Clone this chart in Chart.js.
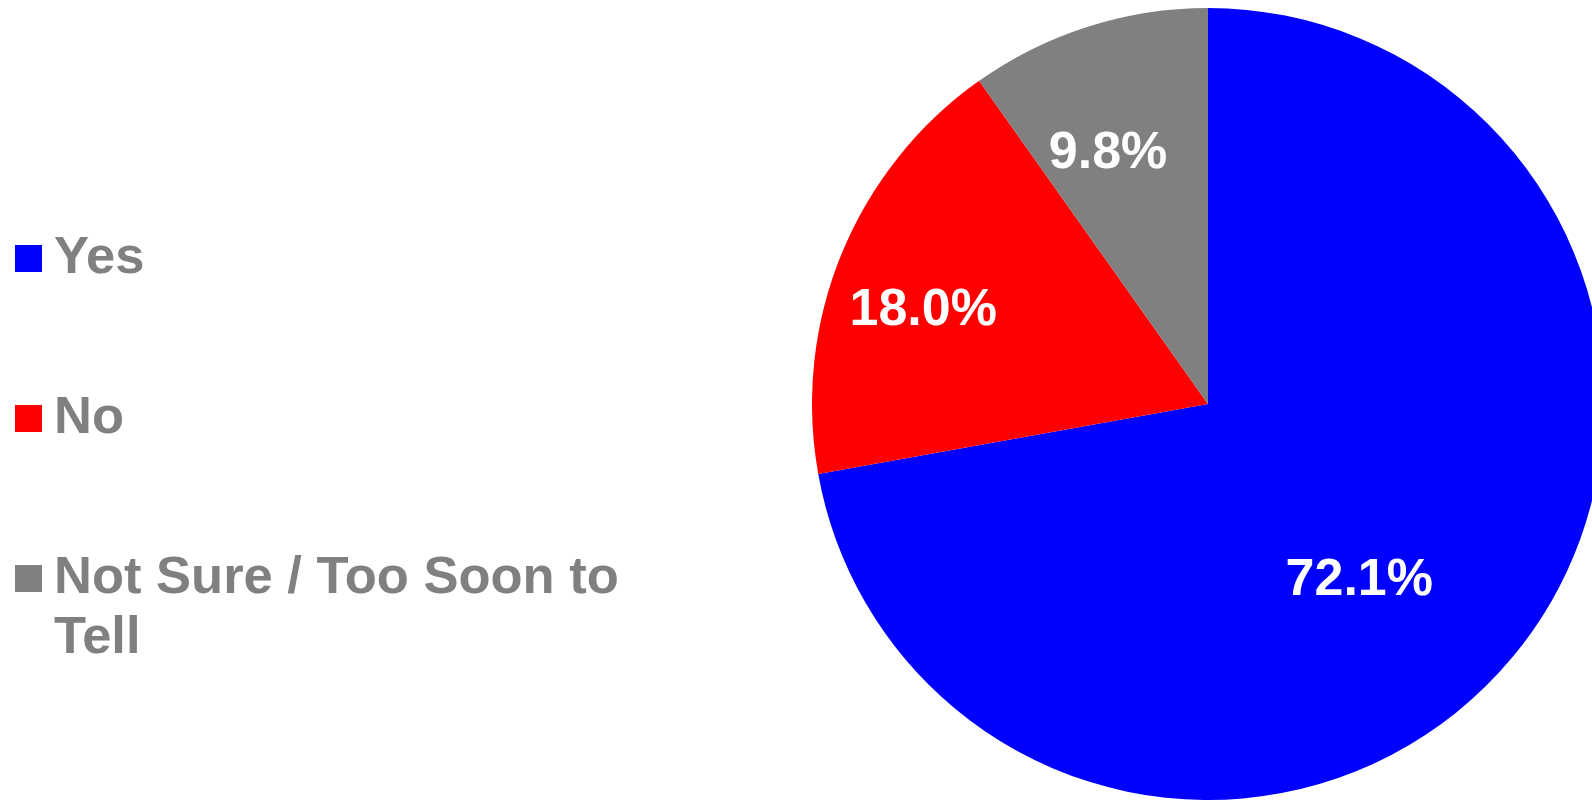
<!DOCTYPE html>
<html>
<head>
<meta charset="utf-8">
<title>Survey response</title>
<script src="https://cdn.jsdelivr.net/npm/chart.js@4/dist/chart.umd.min.js"></script>
<style>
    html, body {
        margin: 0;
        padding: 0;
        background: #ffffff;
    }
    body {
        width: 1592px;
        height: 800px;
        overflow: hidden;
        position: relative;
        font-family: "Liberation Sans", Arial, sans-serif;
    }
    .legend {
        position: absolute;
        left: 15px;
        top: 225px;
        display: flex;
        flex-direction: column;
        gap: 100px;
    }
    .legend-item {
        display: flex;
        align-items: flex-start;
    }
    .legend-swatch {
        width: 27px;
        height: 27px;
        margin-top: 20px;
        margin-right: 12px;
        flex: none;
    }
    .legend-text {
        width: 600px;
        font-weight: bold;
        font-size: 52.5px;
        line-height: 60px;
        color: #808080;
    }
    .pie-wrap {
        position: absolute;
        left: 812px;
        top: 8px;
        width: 792px;
        height: 792px;
    }
</style>
</head>
<body>
<div class="legend" id="legend"></div>
<div class="pie-wrap"><canvas id="pieChart"></canvas></div>

<script>
const answers = ['Yes', 'No', 'Not Sure / Too Soon to Tell'];
const shares = [72.1, 18.0, 9.8];
const sliceColors = ['#0000ff', '#ff0000', '#808080'];

// white percentage text inside each slice
const sliceLabels = {
    id: 'sliceLabels',
    afterDatasetsDraw(chart, args, opts) {
        const ctx = chart.ctx;
        const meta = chart.getDatasetMeta(0);
        ctx.save();
        ctx.fillStyle = opts.color;
        ctx.font = 'bold ' + opts.size + 'px "Liberation Sans", Arial, sans-serif';
        ctx.textAlign = 'center';
        ctx.textBaseline = 'alphabetic';
        meta.data.forEach((arc, i) => {
            const p = arc.getProps(['x', 'y', 'startAngle', 'endAngle', 'outerRadius'], true);
            const mid = (p.startAngle + p.endAngle) / 2 + opts.shift[i] * Math.PI / 180;
            const r = p.outerRadius * opts.radius[i];
            const value = chart.data.datasets[0].data[i];
            // centre the cap height on the anchor point
            const x = p.x + Math.cos(mid) * r;
            const y = p.y + Math.sin(mid) * r + opts.size * 0.358;
            ctx.fillText(value.toFixed(1) + '%', x, y);
        });
        ctx.restore();
    }
};

const chart = new Chart(document.getElementById('pieChart'), {
    type: 'pie',
    data: {
        labels: answers,
        datasets: [{
            data: shares,
            backgroundColor: sliceColors,
            borderWidth: 0
        }]
    },
    options: {
        responsive: true,
        maintainAspectRatio: false,
        animation: false,
        layout: { padding: 0 },
        plugins: {
            legend: { display: false },
            tooltip: { enabled: false },
            sliceLabels: {
                color: '#ffffff',
                size: 52,
                radius: [0.58, 0.76, 0.69],
                shift: [8.9, -3.4, -3.8]
            }
        }
    },
    plugins: [sliceLabels]
});

// legend on the left, built from the chart's own labels and colours
const legendEl = document.getElementById('legend');
chart.data.labels.forEach((label, i) => {
    const item = document.createElement('div');
    item.className = 'legend-item';
    const swatch = document.createElement('span');
    swatch.className = 'legend-swatch';
    swatch.style.background = chart.data.datasets[0].backgroundColor[i];
    const text = document.createElement('span');
    text.className = 'legend-text';
    text.textContent = label;
    item.appendChild(swatch);
    item.appendChild(text);
    legendEl.appendChild(item);
});
</script>
</body>
</html>
